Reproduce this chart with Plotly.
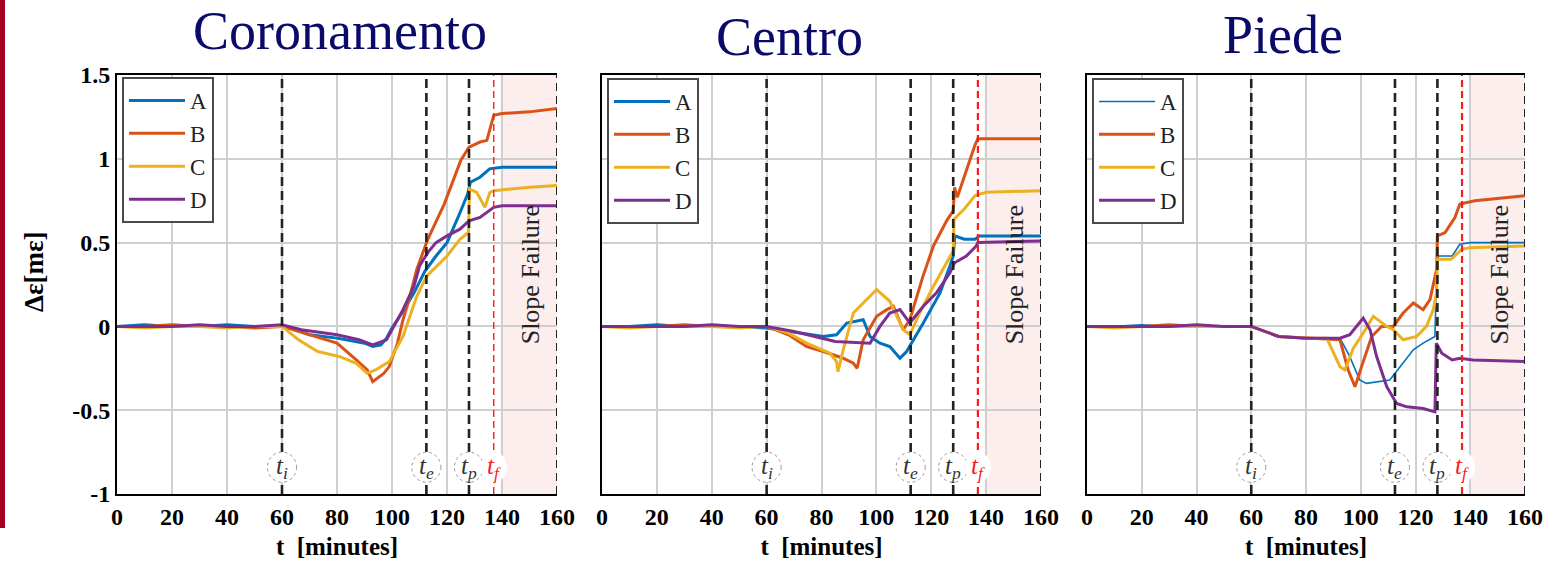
import plotly.graph_objects as go

# ---- measured strain change (Δε, mε) versus time (minutes) ----
# Coronamento
cor_t_A = [0, 10, 20, 30, 40, 50, 60, 65, 70, 80, 90, 93, 96, 98, 100, 104, 108, 112, 116, 120, 124, 127.5, 128.5, 132, 135.5, 140, 150, 160]
cor_A = [0, 0.01, 0, 0, 0.01, 0, 0, -0.02, -0.05, -0.07, -0.1, -0.12, -0.11, -0.07, -0.01, 0.09, 0.2, 0.33, 0.42, 0.5, 0.65, 0.79, 0.86, 0.89, 0.94, 0.95, 0.95, 0.95]
cor_t_B = [0, 10, 20, 30, 40, 50, 60, 66, 72, 80, 87, 91, 93, 97, 99, 102, 104, 106, 109, 113, 119, 125, 128, 132, 134.5, 137, 140, 150, 160]
cor_B = [0, 0, 0.01, 0, 0, -0.01, 0, -0.03, -0.06, -0.1, -0.2, -0.26, -0.33, -0.28, -0.24, -0.1, 0.04, 0.15, 0.34, 0.52, 0.73, 0.99, 1.07, 1.1, 1.11, 1.26, 1.27, 1.28, 1.3]
cor_t_C = [0, 10, 20, 30, 40, 50, 60, 66, 73, 81, 87, 91, 94, 99, 104, 109, 112.6, 120, 124.7, 127.8, 128.2, 130.8, 133.8, 135.6, 137, 150, 160]
cor_C = [0, -0.01, 0, 0, -0.01, 0, 0, -0.08, -0.15, -0.18, -0.22, -0.28, -0.26, -0.21, -0.06, 0.18, 0.3, 0.42, 0.52, 0.56, 0.82, 0.8, 0.71, 0.8, 0.81, 0.83, 0.84]
cor_t_D = [0, 10, 20, 30, 40, 50, 60, 67, 80, 88, 93, 98, 104, 108, 110, 113, 116, 120, 124.7, 128, 132, 137, 140, 160]
cor_D = [0, 0, 0, 0.01, 0, 0, 0.01, -0.02, -0.05, -0.08, -0.11, -0.08, 0.1, 0.24, 0.36, 0.44, 0.5, 0.54, 0.58, 0.63, 0.65, 0.71, 0.72, 0.72]

# Centro
cen_t_A = [0, 10, 20, 30, 40, 50, 60, 68.5, 80.7, 85.5, 89.2, 95.2, 97.7, 101.3, 104.9, 108.6, 111, 117.1, 123.2, 126.8, 128, 128.6, 132, 136, 137.5, 160]
cen_A = [0, 0, 0.01, 0, 0, 0, -0.01, -0.03, -0.06, -0.05, 0.02, 0.04, -0.06, -0.1, -0.12, -0.19, -0.15, 0.02, 0.2, 0.36, 0.42, 0.54, 0.52, 0.52, 0.54, 0.54]
cen_t_B = [0, 10, 20, 30, 40, 50, 60, 68, 74.6, 80.7, 87.9, 91.6, 93, 95.2, 100.1, 103.8, 106.2, 109.8, 112.2, 117, 120.8, 125.6, 128, 128.5, 129.5, 135.9, 137, 160]
cen_B = [0, 0, 0, 0.01, 0, 0, 0, -0.05, -0.12, -0.15, -0.19, -0.22, -0.25, -0.08, 0.06, 0.1, 0.12, -0.02, 0.04, 0.3, 0.48, 0.63, 0.69, 0.83, 0.77, 1.08, 1.12, 1.12]
cen_t_C = [0, 10, 20, 30, 40, 50, 60, 68, 74.6, 83.1, 85.5, 86, 87.9, 91.6, 95.2, 100.1, 104.9, 109.8, 112.2, 115.8, 120.8, 125.6, 128, 128.3, 132, 136, 140, 160]
cen_C = [0, -0.01, 0, 0, 0, -0.01, 0, -0.04, -0.1, -0.16, -0.21, -0.27, -0.14, 0.08, 0.14, 0.22, 0.15, -0.02, -0.05, 0.08, 0.24, 0.38, 0.45, 0.64, 0.7, 0.78, 0.8, 0.81]
cen_t_D = [0, 10, 20, 30, 40, 50, 60, 70, 85, 97.7, 101.3, 104.9, 108.6, 112.2, 117.1, 121.9, 126.8, 128.5, 132.8, 136.4, 137, 160]
cen_D = [0, 0, 0, 0, 0.01, 0, 0, -0.03, -0.09, -0.1, 0.0, 0.08, 0.1, 0.02, 0.12, 0.2, 0.32, 0.38, 0.42, 0.48, 0.5, 0.51]

# Piede
pie_t_A = [0, 10, 20, 30, 40, 50, 60, 70, 80, 92.4, 96, 99.6, 102.1, 110.6, 114.3, 119.2, 122.8, 127.1, 127.8, 128.5, 133.4, 136.2, 140, 160]
pie_A = [0, 0, 0.01, 0, 0, 0, 0, -0.06, -0.07, -0.07, -0.18, -0.32, -0.34, -0.32, -0.24, -0.14, -0.1, -0.06, 0.4, 0.42, 0.42, 0.49, 0.5, 0.5]
pie_t_B = [0, 10, 20, 30, 40, 50, 60, 70, 80, 92.4, 95.4, 97.9, 100.3, 104, 107.6, 111.9, 115.5, 119.2, 122.8, 125.3, 127.7, 128, 130.8, 134.4, 136.2, 141.7, 160]
pie_B = [0, 0, 0, 0.01, 0, 0, 0, -0.06, -0.07, -0.08, -0.26, -0.36, -0.24, -0.06, 0.0, 0.0, 0.08, 0.14, 0.1, 0.16, 0.34, 0.54, 0.56, 0.65, 0.73, 0.75, 0.78]
pie_t_C = [0, 10, 20, 30, 40, 50, 60, 70, 80, 87.6, 92.4, 94.2, 97.3, 100.9, 104.6, 109.5, 111.9, 115.5, 120.4, 124, 126.5, 127.7, 128, 133, 136.9, 140, 160]
pie_C = [0, -0.01, 0, 0, 0, 0, 0, -0.06, -0.07, -0.07, -0.24, -0.26, -0.13, -0.04, 0.06, 0.0, -0.02, -0.08, -0.06, 0.0, 0.1, 0.2, 0.4, 0.4, 0.46, 0.47, 0.48]
pie_t_D = [0, 10, 20, 30, 40, 50, 60, 70, 80, 92.4, 96, 100.9, 103.4, 105.8, 109.5, 113.1, 116.8, 122.8, 127.1, 127.6, 129.6, 133.4, 136.2, 141, 160]
pie_D = [0, 0, 0, 0, 0.01, 0, 0, -0.06, -0.07, -0.07, -0.05, 0.05, -0.02, -0.18, -0.36, -0.46, -0.48, -0.49, -0.51, -0.1, -0.16, -0.2, -0.19, -0.2, -0.21]

# event times (minutes) and failure window
event_names = ["i", "e", "p"]
event_times = [60, 112.5, 128]
t_failure = 137
failure_start = 139.5
t_end = 160

panel_titles = ["Coronamento", "Centro", "Piede"]
series_names = ["A", "B", "C", "D"]
series_colors = ["#0072BD", "#D95319", "#EDB120", "#7E2F8E"]

panels = [
    [(cor_t_A, cor_A), (cor_t_B, cor_B), (cor_t_C, cor_C), (cor_t_D, cor_D)],
    [(cen_t_A, cen_A), (cen_t_B, cen_B), (cen_t_C, cen_C), (cen_t_D, cen_D)],
    [(pie_t_A, pie_A), (pie_t_B, pie_B), (pie_t_C, pie_C), (pie_t_D, pie_D)],
]

x_ticks = [0, 20, 40, 60, 80, 100, 120, 140, 160]
y_ticks = [-1, -0.5, 0, 0.5, 1, 1.5]
y_tick_text = ["-1", "-0.5", "0", "0.5", "1", "1.5"]

W, H = 1566, 569
x_domains_px = [(117, 557), (602, 1041), (1087, 1525)]
y_top_px, y_bot_px = 75, 494
title_pos_px = [(340, 31), (789, 37), (1283, 35)]
legend_pos_px = [(122, 77), (607, 78), (1092, 78)]

SERIF = "Liberation Serif"
fig = go.Figure()

for p, data in enumerate(panels):
    sfx = "" if p == 0 else str(p + 1)
    xa, ya = "x" + sfx, "y" + sfx
    leg = "legend" + sfx
    for k, (tt, vv) in enumerate(data):
        width = 1.6 if (p == 2 and k == 0) else 3
        fig.add_trace(go.Scatter(
            x=tt, y=vv, mode="lines", name=series_names[k],
            line=dict(color=series_colors[k], width=width),
            xaxis=xa, yaxis=ya, legend=leg, showlegend=True,
        ))

layout = dict(
    width=W, height=H, margin=dict(l=0, r=0, t=0, b=0, autoexpand=False),
    paper_bgcolor="white", plot_bgcolor="white",
    shapes=[], annotations=[],
)

y_dom = [1 - y_bot_px / H, 1 - y_top_px / H]
for p in range(3):
    sfx = "" if p == 0 else str(p + 1)
    x0p, x1p = x_domains_px[p]
    layout["xaxis" + sfx] = dict(
        domain=[x0p / W, x1p / W], anchor="y" + sfx, range=[0, t_end],
        tickvals=x_ticks, ticks="", showline=True, mirror=True, automargin=False,
        linecolor="black", linewidth=2, showgrid=True, gridcolor="#cfcfcf",
        gridwidth=1.6, zeroline=False,
        tickfont=dict(family=SERIF, size=24, color="black", weight="bold"),
        title=dict(text="<b>t  [minutes]</b>", standoff=9,
                   font=dict(family=SERIF, size=25, color="black")),
    )
    layout["yaxis" + sfx] = dict(
        domain=y_dom, anchor="x" + sfx, range=[-1, 1.5], automargin=False,
        tickvals=y_ticks, ticktext=y_tick_text, showticklabels=(p == 0),
        ticks="", showline=True, mirror=False, linecolor="black", linewidth=2,
        showgrid=True, gridcolor="#cfcfcf", gridwidth=1.6, zeroline=False,
        tickfont=dict(family=SERIF, size=24, color="black", weight="bold"),
    )
    lx, ly = legend_pos_px[p]
    layout["legend" + sfx] = dict(
        x=lx / W, y=1 - ly / H, xanchor="left", yanchor="top",
        bgcolor="white", bordercolor="#4a4a4a", borderwidth=2,
        font=dict(family=SERIF, size=23, color="#222"),
        itemwidth=56, tracegroupgap=0,
    )

    xr, yr = "x" + sfx, "y" + sfx
    # failure window
    layout["shapes"].append(dict(type="rect", xref=xr, yref=yr, x0=failure_start, x1=t_end,
                                 y0=-1, y1=1.5, fillcolor="#fdeeee", line=dict(width=0), layer="below"))
    # right frame edge
    layout["shapes"].append(dict(type="line", xref=xr, yref=yr, x0=t_end, x1=t_end, y0=-1, y1=1.5,
                                 line=dict(color="#222", width=2, dash="8px,5px")))
    # event markers
    for ev in event_times:
        layout["shapes"].append(dict(type="line", xref=xr, yref=yr, x0=ev, x1=ev, y0=-1, y1=1.5,
                                     line=dict(color="#222", width=2.6, dash="9px,5px")))
    layout["shapes"].append(dict(type="line", xref=xr, yref=yr, x0=t_failure, x1=t_failure,
                                 y0=-1, y1=1.5,
                                 line=dict(color="#ff1a1a", width=1.4 if p == 0 else 2.2,
                                           dash="7px,4px")))
    # label bubbles
    cy, ry = -0.84, 0.09
    for name, ev in zip(event_names, event_times):
        layout["shapes"].append(dict(type="circle", xref=xr, yref=yr, x0=ev - 5.3, x1=ev + 5.3,
                                     y0=cy - ry, y1=cy + ry, fillcolor="white",
                                     line=dict(color="#9a9a9a", width=1, dash="dot")))
        layout["annotations"].append(dict(
            xref=xr, yref=yr, x=ev, y=cy, showarrow=False, xanchor="center", yanchor="middle",
            text=f"<i>t</i><sub><i>{name}</i></sub>",
            font=dict(family=SERIF, size=25, color="#333")))
    layout["shapes"].append(dict(type="circle", xref=xr, yref=yr, x0=t_failure - 4.8,
                                 x1=t_failure + 4.8, y0=cy - ry, y1=cy + ry,
                                 fillcolor="white", line=dict(width=0)))
    layout["annotations"].append(dict(
        xref=xr, yref=yr, x=t_failure, y=cy, showarrow=False, xanchor="center", yanchor="middle",
        text="<i>t</i><sub><i>f</i></sub>", font=dict(family=SERIF, size=25, color="#ff1a1a")))
    # failure window caption
    layout["annotations"].append(dict(
        xref=xr, yref=yr, x=150.5, y=0.31, showarrow=False, textangle=-90,
        xanchor="center", yanchor="middle",
        text="Slope Failure", font=dict(family=SERIF, size=26, color="#222")))
    # panel title
    tx, ty = title_pos_px[p]
    layout["annotations"].append(dict(
        xref="paper", yref="paper", x=tx / W, y=1 - ty / H, showarrow=False,
        xanchor="center", yanchor="middle",
        text=panel_titles[p], font=dict(family=SERIF, size=54, color="#0a0a6b")))

# y-axis label
layout["annotations"].append(dict(
    xref="paper", yref="paper", x=34 / W, y=1 - 272 / H, showarrow=False, textangle=-90,
    xanchor="center", yanchor="middle",
    text="<b>Δε[mε]</b>", font=dict(family=SERIF, size=27, color="black")))

# accent bar on the left edge
layout["shapes"].append(dict(type="rect", xref="paper", yref="paper", x0=0, x1=5 / W,
                             y0=1 - 528 / H, y1=1, fillcolor="#a50021", line=dict(width=0)))

fig.update_layout(**layout)
fig.write_html("out.html")
